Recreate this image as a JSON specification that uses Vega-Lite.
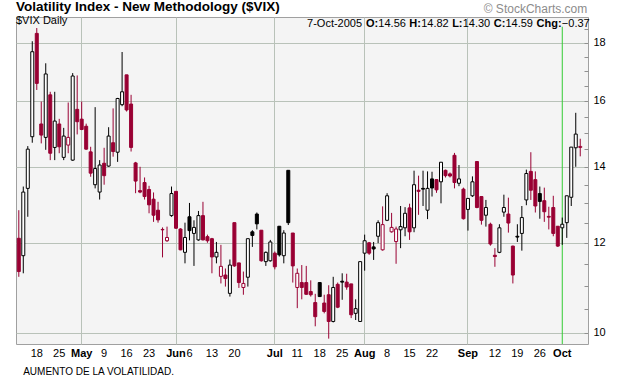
{
  "$schema": "https://vega.github.io/schema/vega-lite/v6.json",
  "width": 572,
  "height": 327,
  "autosize": {"type": "none"},
  "padding": {"left": 16, "top": 17, "right": 32, "bottom": 46},
  "background": "white",
  "config": {
    "font": "Liberation Sans",
    "view": {"fill": "#f4f4f4", "stroke": "#a0a0a0", "strokeWidth": 1},
    "axis": {"labelFont": "Liberation Sans", "titleFont": "Liberation Sans"}
  },
  "title": {
    "text": "Volatility Index - New Methodology ($VIX)",
    "subtitle": "$VIX Daily",
    "anchor": "start",
    "frame": "group",
    "font": "Liberation Sans",
    "fontSize": 13.5,
    "fontWeight": "bold",
    "color": "#000000",
    "subtitleFont": "Liberation Sans",
    "subtitleFontSize": 11,
    "subtitleColor": "#000000",
    "subtitlePadding": 1.5,
    "offset": -23
  },
  "data": {
    "values": [
      {"d":"2005-04-12","o":12.11,"h":12.82,"l":11.2,"c":11.32},
      {"d":"2005-04-13","o":11.69,"h":13.45,"l":11.28,"c":13.3},
      {"d":"2005-04-14","o":13.4,"h":14.6,"l":12.65,"c":14.51},
      {"d":"2005-04-15","o":14.88,"h":18.06,"l":14.7,"c":17.68},
      {"d":"2005-04-18","o":18.35,"h":18.55,"l":16.36,"c":16.58},
      {"d":"2005-04-19","o":15.27,"h":15.98,"l":14.68,"c":14.93},
      {"d":"2005-04-20","o":14.86,"h":17.27,"l":14.49,"c":16.9},
      {"d":"2005-04-21","o":16.2,"h":16.3,"l":14.19,"c":14.39},
      {"d":"2005-04-22","o":14.56,"h":16.3,"l":14.19,"c":15.36},
      {"d":"2005-04-25","o":15.27,"h":15.43,"l":14.39,"c":14.58},
      {"d":"2005-04-26","o":14.27,"h":15.15,"l":14.19,"c":14.9},
      {"d":"2005-04-27","o":14.63,"h":15.95,"l":14.39,"c":14.86},
      {"d":"2005-04-28","o":14.19,"h":16.93,"l":14.17,"c":16.83},
      {"d":"2005-04-29","o":15.73,"h":16.85,"l":14.95,"c":15.34},
      {"d":"2005-05-02","o":15.42,"h":15.98,"l":15.08,"c":15.1},
      {"d":"2005-05-03","o":15.2,"h":15.28,"l":14.49,"c":14.51},
      {"d":"2005-05-04","o":14.43,"h":14.58,"l":13.72,"c":13.82},
      {"d":"2005-05-05","o":13.5,"h":15.8,"l":13.4,"c":13.95},
      {"d":"2005-05-06","o":13.3,"h":14.19,"l":13.1,"c":14.05},
      {"d":"2005-05-09","o":14.1,"h":14.55,"l":13.5,"c":13.75},
      {"d":"2005-05-10","o":14.02,"h":15.17,"l":14.0,"c":14.9},
      {"d":"2005-05-11","o":14.7,"h":15.76,"l":14.29,"c":14.44},
      {"d":"2005-05-12","o":14.42,"h":16.1,"l":14.14,"c":16.08},
      {"d":"2005-05-13","o":15.88,"h":17.67,"l":15.83,"c":16.3},
      {"d":"2005-05-16","o":16.87,"h":16.87,"l":15.66,"c":15.71},
      {"d":"2005-05-17","o":15.9,"h":16.2,"l":14.44,"c":14.56},
      {"d":"2005-05-18","o":14.11,"h":14.14,"l":13.27,"c":13.6},
      {"d":"2005-05-19","o":13.34,"h":14.0,"l":13.27,"c":13.3},
      {"d":"2005-05-20","o":13.56,"h":13.7,"l":13.1,"c":13.18},
      {"d":"2005-05-23","o":13.37,"h":13.47,"l":12.74,"c":12.96},
      {"d":"2005-05-24","o":13.11,"h":13.29,"l":12.52,"c":12.69},
      {"d":"2005-05-25","o":12.82,"h":13.04,"l":12.5,"c":12.57},
      {"d":"2005-05-26","o":12.33,"h":12.38,"l":11.65,"c":12.32},
      {"d":"2005-05-27","o":12.05,"h":12.4,"l":12.02,"c":12.13},
      {"d":"2005-05-31","o":12.68,"h":13.45,"l":12.65,"c":13.26},
      {"d":"2005-06-01","o":13.32,"h":13.32,"l":12.34,"c":12.36},
      {"d":"2005-06-02","o":12.34,"h":12.36,"l":11.82,"c":11.83},
      {"d":"2005-06-03","o":11.77,"h":12.5,"l":11.51,"c":12.13},
      {"d":"2005-06-06","o":12.65,"h":13.01,"l":12.06,"c":12.3},
      {"d":"2005-06-07","o":12.23,"h":12.56,"l":11.45,"c":12.38},
      {"d":"2005-06-08","o":12.07,"h":12.8,"l":12.05,"c":12.68},
      {"d":"2005-06-09","o":12.68,"h":13.04,"l":12.06,"c":12.07},
      {"d":"2005-06-10","o":12.15,"h":12.2,"l":12.0,"c":12.05},
      {"d":"2005-06-13","o":12.1,"h":12.12,"l":11.28,"c":11.66},
      {"d":"2005-06-14","o":11.66,"h":12.02,"l":11.51,"c":11.77},
      {"d":"2005-06-15","o":11.21,"h":11.95,"l":11.05,"c":11.44},
      {"d":"2005-06-16","o":11.24,"h":11.39,"l":10.98,"c":11.16},
      {"d":"2005-06-17","o":10.83,"h":11.6,"l":10.76,"c":11.47},
      {"d":"2005-06-20","o":12.5,"h":12.5,"l":11.43,"c":11.45},
      {"d":"2005-06-21","o":11.52,"h":11.52,"l":10.95,"c":11.07},
      {"d":"2005-06-22","o":10.96,"h":11.32,"l":10.8,"c":11.05},
      {"d":"2005-06-23","o":11.19,"h":12.1,"l":10.98,"c":12.1},
      {"d":"2005-06-24","o":12.27,"h":12.31,"l":11.9,"c":12.18},
      {"d":"2005-06-27","o":12.72,"h":12.76,"l":12.33,"c":12.47},
      {"d":"2005-06-28","o":12.31,"h":12.31,"l":11.55,"c":11.57},
      {"d":"2005-06-29","o":11.55,"h":11.79,"l":11.45,"c":11.77},
      {"d":"2005-06-30","o":11.57,"h":12.07,"l":11.55,"c":12.02},
      {"d":"2005-07-01","o":11.75,"h":11.79,"l":11.37,"c":11.43},
      {"d":"2005-07-05","o":12.41,"h":12.41,"l":11.67,"c":11.71},
      {"d":"2005-07-06","o":11.69,"h":12.31,"l":11.51,"c":12.24},
      {"d":"2005-07-07","o":13.9,"h":13.9,"l":12.44,"c":12.5},
      {"d":"2005-07-08","o":12.24,"h":12.24,"l":11.07,"c":11.45},
      {"d":"2005-07-11","o":10.96,"h":11.39,"l":10.51,"c":11.28},
      {"d":"2005-07-12","o":11.07,"h":11.47,"l":10.7,"c":10.96},
      {"d":"2005-07-13","o":11.07,"h":11.45,"l":10.8,"c":10.81},
      {"d":"2005-07-14","o":10.87,"h":11.12,"l":10.76,"c":10.8},
      {"d":"2005-07-15","o":10.63,"h":10.82,"l":10.13,"c":10.33},
      {"d":"2005-07-18","o":11.07,"h":11.08,"l":10.75,"c":10.76},
      {"d":"2005-07-19","o":10.62,"h":10.8,"l":10.4,"c":10.44},
      {"d":"2005-07-20","o":10.8,"h":11.01,"l":9.88,"c":10.23},
      {"d":"2005-07-21","o":10.23,"h":11.2,"l":10.21,"c":10.96},
      {"d":"2005-07-22","o":11.03,"h":11.07,"l":10.51,"c":10.53},
      {"d":"2005-07-25","o":11.1,"h":11.28,"l":10.69,"c":11.08},
      {"d":"2005-07-26","o":11.08,"h":11.27,"l":10.91,"c":10.97},
      {"d":"2005-07-27","o":11.04,"h":11.04,"l":10.3,"c":10.37},
      {"d":"2005-07-28","o":10.4,"h":10.7,"l":10.26,"c":10.5},
      {"d":"2005-07-29","o":10.23,"h":11.55,"l":10.22,"c":11.55},
      {"d":"2005-08-01","o":11.75,"h":12.2,"l":11.34,"c":12.05},
      {"d":"2005-08-02","o":12.0,"h":12.02,"l":11.71,"c":11.75},
      {"d":"2005-08-03","o":11.9,"h":12.02,"l":11.59,"c":11.85},
      {"d":"2005-08-04","o":12.16,"h":12.56,"l":11.99,"c":12.5},
      {"d":"2005-08-05","o":11.83,"h":12.92,"l":11.81,"c":12.45},
      {"d":"2005-08-08","o":12.56,"h":13.27,"l":12.54,"c":13.2},
      {"d":"2005-08-09","o":12.27,"h":12.75,"l":12.25,"c":12.38},
      {"d":"2005-08-10","o":12.03,"h":12.4,"l":11.5,"c":12.34},
      {"d":"2005-08-11","o":12.32,"h":12.93,"l":11.87,"c":12.4},
      {"d":"2005-08-12","o":12.37,"h":12.9,"l":12.16,"c":12.74},
      {"d":"2005-08-15","o":12.88,"h":12.99,"l":12.07,"c":12.27},
      {"d":"2005-08-16","o":12.37,"h":13.89,"l":12.26,"c":13.5},
      {"d":"2005-08-17","o":13.35,"h":13.75,"l":12.7,"c":13.32},
      {"d":"2005-08-18","o":13.4,"h":13.89,"l":12.93,"c":13.38},
      {"d":"2005-08-19","o":12.82,"h":13.87,"l":12.59,"c":13.4},
      {"d":"2005-08-22","o":13.66,"h":13.86,"l":13.18,"c":13.41},
      {"d":"2005-08-23","o":13.64,"h":13.64,"l":13.28,"c":13.36},
      {"d":"2005-08-24","o":13.58,"h":14.13,"l":13.0,"c":14.13},
      {"d":"2005-08-25","o":13.9,"h":13.92,"l":13.7,"c":13.75},
      {"d":"2005-08-26","o":13.8,"h":13.84,"l":13.7,"c":13.74},
      {"d":"2005-08-29","o":14.33,"h":14.4,"l":13.4,"c":13.56},
      {"d":"2005-08-30","o":13.54,"h":14.05,"l":13.46,"c":13.66},
      {"d":"2005-08-31","o":13.38,"h":13.42,"l":12.58,"c":12.6},
      {"d":"2005-09-01","o":12.84,"h":13.13,"l":12.3,"c":13.13},
      {"d":"2005-09-02","o":13.2,"h":13.73,"l":13.17,"c":13.58},
      {"d":"2005-09-06","o":14.15,"h":14.15,"l":12.87,"c":12.89},
      {"d":"2005-09-07","o":13.18,"h":13.18,"l":12.45,"c":12.56},
      {"d":"2005-09-08","o":12.69,"h":13.09,"l":12.4,"c":12.89},
      {"d":"2005-09-09","o":12.46,"h":12.5,"l":11.93,"c":11.97},
      {"d":"2005-09-12","o":11.7,"h":11.87,"l":11.43,"c":11.67},
      {"d":"2005-09-13","o":11.77,"h":12.46,"l":11.75,"c":12.37},
      {"d":"2005-09-14","o":12.77,"h":13.23,"l":12.65,"c":12.89},
      {"d":"2005-09-15","o":12.72,"h":13.15,"l":12.25,"c":12.49},
      {"d":"2005-09-16","o":11.92,"h":11.93,"l":11.05,"c":11.24},
      {"d":"2005-09-19","o":12.16,"h":12.46,"l":12.02,"c":12.14},
      {"d":"2005-09-20","o":12.23,"h":12.93,"l":11.81,"c":12.63},
      {"d":"2005-09-21","o":13.09,"h":13.92,"l":12.95,"c":13.81},
      {"d":"2005-09-22","o":13.87,"h":14.42,"l":13.09,"c":13.35},
      {"d":"2005-09-23","o":13.64,"h":13.87,"l":12.76,"c":12.93},
      {"d":"2005-09-26","o":13.26,"h":13.45,"l":12.6,"c":13.05},
      {"d":"2005-09-27","o":13.07,"h":13.42,"l":12.52,"c":12.78},
      {"d":"2005-09-28","o":12.66,"h":12.91,"l":12.33,"c":12.64},
      {"d":"2005-09-29","o":12.89,"h":13.2,"l":12.16,"c":12.23},
      {"d":"2005-09-30","o":12.41,"h":12.41,"l":11.9,"c":11.92},
      {"d":"2005-10-03","o":12.37,"h":12.63,"l":11.95,"c":12.46},
      {"d":"2005-10-04","o":12.5,"h":13.2,"l":12.12,"c":13.2},
      {"d":"2005-10-05","o":13.16,"h":14.57,"l":12.93,"c":14.57},
      {"d":"2005-10-06","o":14.55,"h":15.62,"l":14.0,"c":14.96},
      {"d":"2005-10-07","o":14.56,"h":14.82,"l":14.3,"c":14.59}
    ]
  },
  "transform": [
    {"window": [{"op": "lag", "field": "c", "as": "pc"}], "sort": [{"field": "d"}]}
  ],
  "encoding": {
    "x": {
      "field": "d",
      "type": "ordinal",
      "scale": {"type": "band", "paddingInner": 0.332, "paddingOuter": 0.841, "align": 0.172, "round": false},
      "axis": {
        "values": ["2005-04-18","2005-04-25","2005-05-02","2005-05-09","2005-05-16","2005-05-23","2005-06-01","2005-06-06","2005-06-13","2005-06-20","2005-07-01","2005-07-11","2005-07-18","2005-07-25","2005-08-01","2005-08-08","2005-08-15","2005-08-22","2005-09-01","2005-09-12","2005-09-19","2005-09-26","2005-10-03"],
        "labelExpr": "indexof(['2005-05-02','2005-06-01','2005-07-01','2005-08-01','2005-09-01','2005-10-03'], datum.value) >= 0 ? utcFormat(toDate(datum.value), '%b') : utcFormat(toDate(datum.value), '%-d')",
        "labelFontWeight": {"condition": {"test": "indexof(['2005-05-02','2005-06-01','2005-07-01','2005-08-01','2005-09-01','2005-10-03'], datum.value) >= 0", "value": "bold"}, "value": "normal"},
        "grid": true,
        "gridColor": "#b9c2b9",
        "gridOpacity": {"condition": {"test": "indexof(['2005-05-02','2005-06-01','2005-07-01','2005-08-01','2005-09-01'], datum.value) >= 0", "value": 1}, "value": 0},
        "ticks": false,
        "domain": false,
        "labelAngle": 0,
        "labelPadding": 3,
        "labelFontSize": 11,
        "labelColor": "#000000",
        "labelOverlap": false,
        "title": "AUMENTO DE LA VOLATILIDAD.",
        "titleFontSize": 10,
        "titleFontWeight": "normal",
        "titleColor": "#000000",
        "titleAnchor": "start",
        "titleAlign": "left",
        "titleX": 6.7,
        "titleY": 30,
        "titleBaseline": "alphabetic"
      }
    }
  },
  "layer": [
    {
      "data": {"values": [{"m": "2005-10-03"}]},
      "mark": {"type": "rule", "color": "#33cc33", "strokeWidth": 1},
      "encoding": {
        "x": {"field": "m", "type": "ordinal"},
        "y": {"datum": 18.6, "type": "quantitative"},
        "y2": {"datum": 9.773}
      }
    },
    {
      "mark": {"type": "rule", "strokeWidth": 1},
      "encoding": {
        "y": {
          "field": "l",
          "type": "quantitative",
          "scale": {"type": "log", "domain": [9.773, 18.97], "nice": false, "zero": false},
          "axis": {
            "orient": "right",
            "values": [10,10.5,11,11.5,12,12.5,13,13.5,14,14.5,15,15.5,16,16.5,17,17.5,18,18.5],
            "labelExpr": "datum.value % 2 == 0 ? datum.value : ''",
            "grid": true,
            "gridColor": "#b9c2b9",
            "gridOpacity": {"condition": {"test": "datum.value % 2 == 0", "value": 1}, "value": 0},
            "tickSize": -4,
            "tickColor": "#909090",
            "labelPadding": 9,
            "domain": false,
            "labelFontSize": 11,
            "labelColor": "#000000",
            "labelOverlap": false,
            "title": null
          }
        },
        "y2": {"field": "h"},
        "stroke": {"condition": {"test": "datum.pc == null || datum.c < datum.pc", "value": "#990033"}, "value": "#000000"}
      }
    },
    {
      "mark": {"type": "bar", "strokeWidth": 1},
      "encoding": {
        "y": {"field": "o", "type": "quantitative", "axis": {"title": null}},
        "y2": {"field": "c"},
        "fill": {"condition": [{"test": "datum.c > datum.o", "value": "#ffffff"}, {"test": "datum.pc == null || datum.c < datum.pc", "value": "#990033"}], "value": "#000000"},
        "stroke": {"condition": {"test": "datum.pc == null || datum.c < datum.pc", "value": "#990033"}, "value": "#000000"}
      }
    },
    {
      "transform": [
        {"filter": "datum.d == '2005-10-07'"},
        {"calculate": "utcFormat(toDate(datum.d), '%-d-%b-%Y')", "as": "dt"},
        {"calculate": "format(datum.o, '.2f')", "as": "os"},
        {"calculate": "format(datum.h, '.2f')", "as": "hs"},
        {"calculate": "format(datum.l, '.2f')", "as": "ls"},
        {"calculate": "format(datum.c, '.2f')", "as": "cs"},
        {"calculate": "format(datum.c - datum.pc, '.2f')", "as": "chg"}
      ],
      "encoding": {
        "y": {"datum": 18.97, "type": "quantitative"}
      },
      "layer": [
        {"mark": {"type": "text", "align": "left", "baseline": "alphabetic", "dx": -273.2, "dy": 9.5, "fontSize": 11, "color": "#000000"}, "encoding": {"text": {"field": "dt"}}},
        {"mark": {"type": "text", "align": "left", "baseline": "alphabetic", "dx": -214.3, "dy": 9.5, "fontSize": 11, "fontWeight": "bold", "color": "#000000"}, "encoding": {"text": {"value": "O:"}}},
        {"mark": {"type": "text", "align": "left", "baseline": "alphabetic", "dx": -201.9, "dy": 9.5, "fontSize": 11, "color": "#000000"}, "encoding": {"text": {"field": "os"}}},
        {"mark": {"type": "text", "align": "left", "baseline": "alphabetic", "dx": -170.9, "dy": 9.5, "fontSize": 11, "fontWeight": "bold", "color": "#000000"}, "encoding": {"text": {"value": "H:"}}},
        {"mark": {"type": "text", "align": "left", "baseline": "alphabetic", "dx": -159.1, "dy": 9.5, "fontSize": 11, "color": "#000000"}, "encoding": {"text": {"field": "hs"}}},
        {"mark": {"type": "text", "align": "left", "baseline": "alphabetic", "dx": -128.1, "dy": 9.5, "fontSize": 11, "fontWeight": "bold", "color": "#000000"}, "encoding": {"text": {"value": "L:"}}},
        {"mark": {"type": "text", "align": "left", "baseline": "alphabetic", "dx": -117.6, "dy": 9.5, "fontSize": 11, "color": "#000000"}, "encoding": {"text": {"field": "ls"}}},
        {"mark": {"type": "text", "align": "left", "baseline": "alphabetic", "dx": -86.5, "dy": 9.5, "fontSize": 11, "fontWeight": "bold", "color": "#000000"}, "encoding": {"text": {"value": "C:"}}},
        {"mark": {"type": "text", "align": "left", "baseline": "alphabetic", "dx": -74.8, "dy": 9.5, "fontSize": 11, "color": "#000000"}, "encoding": {"text": {"field": "cs"}}},
        {"mark": {"type": "text", "align": "left", "baseline": "alphabetic", "dx": -43.7, "dy": 9.5, "fontSize": 11, "fontWeight": "bold", "color": "#000000"}, "encoding": {"text": {"value": "Chg:"}}},
        {"mark": {"type": "text", "align": "left", "baseline": "alphabetic", "dx": -18.4, "dy": 9.5, "fontSize": 11, "color": "#000000"}, "encoding": {"text": {"field": "chg"}}},
        {"mark": {"type": "text", "align": "right", "baseline": "alphabetic", "dx": 7, "dy": -4, "fontSize": 12, "color": "#8c8c8c"}, "encoding": {"text": {"value": "© StockCharts.com"}}}
      ]
    }
  ]
}
